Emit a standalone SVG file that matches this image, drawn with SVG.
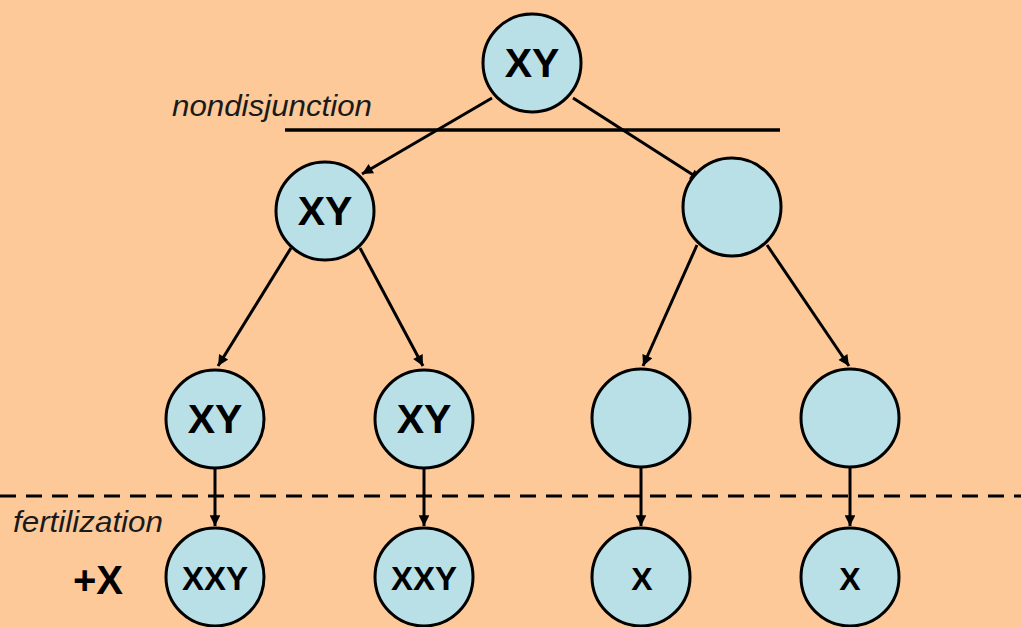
<svg xmlns="http://www.w3.org/2000/svg" width="1021" height="627" viewBox="0 0 1021 627">
<style>
.n{fill:#b9e0e6;stroke:#000;stroke-width:3}
.t{font-family:"Liberation Sans",Arial,sans-serif;font-weight:bold;fill:#000;text-anchor:middle}
.e{stroke:#000;stroke-width:3;fill:none;marker-end:url(#a)}
.lab{font-family:"Liberation Sans",Arial,sans-serif;font-style:italic;font-size:30px;fill:#1a1a1a}
</style>
<defs>
<marker id="a" viewBox="0 0 10 10" refX="10" refY="5" markerWidth="4.3" markerHeight="3.6" orient="auto" markerUnits="strokeWidth">
<path d="M0,0 L10,5 L0,10 z" fill="#000"/>
</marker>
</defs>
<rect width="1021" height="627" fill="#fdc999"/>
<line x1="285" y1="130" x2="780" y2="130" stroke="#000" stroke-width="3.5"/>
<line x1="0" y1="496" x2="1021" y2="496" stroke="#000" stroke-width="3" stroke-dasharray="16,10"/>
<text class="lab" x="172" y="116" textLength="200" lengthAdjust="spacingAndGlyphs">nondisjunction</text>
<text class="lab" x="13" y="532" textLength="150" lengthAdjust="spacingAndGlyphs">fertilization</text>
<text x="73" y="594" font-family="Liberation Sans,Arial,sans-serif" font-weight="bold" font-size="40" fill="#000">+X</text>
<g id="connectors">
<line class="e" x1="492" y1="98" x2="362" y2="174"/>
<line class="e" x1="573" y1="98" x2="701" y2="180"/>
<line class="e" x1="291" y1="248" x2="218" y2="366"/>
<line class="e" x1="360" y1="248" x2="423" y2="366"/>
<line class="e" x1="697" y1="245" x2="643" y2="366"/>
<line class="e" x1="767" y1="245" x2="849" y2="366"/>
<line class="e" x1="215" y1="468" x2="215" y2="526"/>
<line class="e" x1="424" y1="468" x2="424" y2="526"/>
<line class="e" x1="641" y1="467" x2="641" y2="526"/>
<line class="e" x1="850" y1="467" x2="850" y2="526"/>
</g>
<g id="n0"><circle class="n" cx="532" cy="63" r="49"/><text class="t" x="532" y="77" font-size="41">XY</text></g>
<g id="n1"><circle class="n" cx="325" cy="211" r="49"/><text class="t" x="325" y="225" font-size="41">XY</text></g>
<g id="n2"><circle class="n" cx="732" cy="207" r="49"/></g>
<g id="n3"><circle class="n" cx="215" cy="419" r="49"/><text class="t" x="215" y="433" font-size="41">XY</text></g>
<g id="n4"><circle class="n" cx="424" cy="419" r="49"/><text class="t" x="424" y="433" font-size="41">XY</text></g>
<g id="n5"><circle class="n" cx="641" cy="418" r="49"/></g>
<g id="n6"><circle class="n" cx="850" cy="418" r="49"/></g>
<g id="n7"><circle class="n" cx="215" cy="577" r="49"/><text class="t" x="215" y="590" font-size="33">XXY</text></g>
<g id="n8"><circle class="n" cx="424" cy="577" r="49"/><text class="t" x="424" y="590" font-size="33">XXY</text></g>
<g id="n9"><circle class="n" cx="641" cy="577" r="49"/><text class="t" x="642" y="590" font-size="32">X</text></g>
<g id="n10"><circle class="n" cx="850" cy="577" r="49"/><text class="t" x="850" y="590" font-size="32">X</text></g>
</svg>
